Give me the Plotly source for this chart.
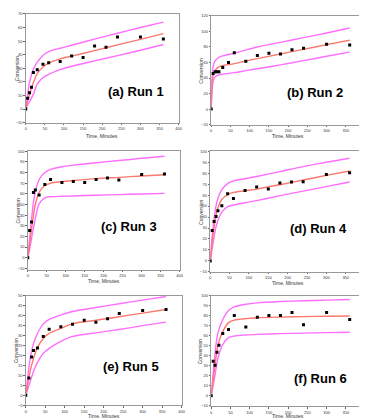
import plotly.graph_objects as go

W, H = 367, 418

# ---------------- data ----------------
t_a = [0, 5, 10, 15, 20, 30, 45, 60, 90, 120, 150, 180, 210, 240, 300, 360]
y_a = [0, 8, 12, 16, 27, 29, 33, 34, 35, 39, 38, 46.5, 45.5, 53, 53, 51.5]
t_b = [0, 5, 10, 15, 20, 30, 45, 60, 90, 120, 150, 180, 210, 240, 300, 360]
y_b = [0, 45.8, 48, 48, 48, 53.5, 60, 72.5, 61.5, 69, 72, 71, 76.4, 78.5, 83.6, 82.7]
t_c = [0, 5, 10, 15, 20, 30, 45, 60, 90, 120, 150, 180, 210, 240, 300, 360]
y_c = [0, 25.5, 33.5, 61.3, 63.5, 58.9, 68.8, 73.4, 70.6, 71.5, 70.6, 73.4, 75, 73, 78.2, 78.6]
t_d = [0, 5, 10, 15, 20, 30, 45, 60, 90, 120, 150, 180, 210, 240, 300, 360]
y_d = [0, 27.8, 36, 40.5, 45.8, 50.4, 61.2, 57, 64.2, 67.5, 65.7, 71.1, 72, 72.3, 78.9, 80.5]
t_e = [0, 8, 15, 20, 30, 45, 60, 90, 120, 150, 180, 210, 240, 300, 360]
y_e = [0, 8.6, 19.2, 22.5, 23.7, 29.5, 33.1, 34.3, 35.6, 37.6, 36.6, 38.4, 41, 42.5, 43]
t_f = [0, 5, 10, 15, 20, 30, 45, 60, 90, 120, 150, 180, 210, 240, 300, 360]
y_f = [0, 34.3, 30.4, 43.4, 50.5, 62.1, 66, 80, 68.6, 78.3, 80, 80, 83.1, 70.9, 83.1, 76]

# fitted curve and band
tc = [0, 5, 10, 20, 30, 45, 60, 90, 120, 180, 240, 300, 360]
fit_a = [0, 6, 11, 19.5, 26, 31, 33.8, 37, 39, 43, 47.2, 51.3, 55.5]
up_a = [0, 11, 20, 29.5, 34.5, 39.5, 42.3, 44.8, 47, 51.5, 55.8, 60, 64]
lo_a = [0, 3, 5.5, 11, 18.5, 23, 25.5, 29, 31.5, 35.5, 39.3, 43.3, 47.5]

tc_b = [0, 2, 5, 10, 20, 30, 60, 90, 120, 180, 240, 300, 360]
fit_b = [0, 30, 44, 50, 54.5, 56, 58.5, 62, 65, 71, 77, 83, 88.7]
up_b = [0, 40, 55, 62, 66.5, 68.5, 72, 76, 80, 86, 92, 98, 104.4]
lo_b = [0, 22, 36, 41.5, 44, 45, 47, 49.5, 52, 57, 62.5, 68, 73.4]

tc2 = [0, 5, 10, 15, 20, 30, 45, 60, 90, 120, 180, 240, 300, 360]
fit_c = [0, 13, 27, 40, 50, 61.5, 67.8, 70, 71.5, 72.5, 74.3, 75.5, 76.8, 78]
up_c = [0, 18, 36, 52, 62, 73.5, 80, 83, 85.5, 87, 89.3, 91.3, 93.4, 95.4]
lo_c = [0, 8, 18, 28, 37, 50.5, 56.3, 57.3, 57.7, 58, 58.7, 59.3, 59.8, 60.4]

fit_d = [0, 17, 31, 42, 48.5, 56, 60.5, 62.5, 64, 65.5, 69.5, 73.8, 78, 82]
up_d = [0, 22, 38, 50, 57, 65, 70.5, 73, 75, 77, 81.5, 86, 90, 93.7]
lo_d = [0, 11, 22, 31, 37, 44.5, 49.5, 51, 53, 55, 59.5, 63.7, 67.8, 72]

fit_e = [0, 5.5, 11, 18.5, 24, 28.5, 31, 33.5, 35.9, 37.6, 39.4, 41.2, 43]
up_e = [0, 9, 17, 26, 31, 35.8, 38, 40.3, 42, 44, 45.9, 47.7, 49.5]
lo_e = [0, 3, 6, 12, 16.5, 21, 23.5, 27, 29.5, 31.3, 33, 34.9, 36.7]

fit_f = [0, 16, 31, 45, 54, 64, 73, 75.5, 77, 77.8, 78.5, 79, 79.3, 79.6]
up_f = [0, 22, 42, 58, 66, 76, 85, 88.7, 91.3, 92.7, 94, 94.8, 95.4, 96]
lo_f = [0, 10, 21, 33, 41, 51, 58, 59.6, 60.6, 61.2, 62, 62.5, 63, 63.4]

titles = ["(a) Run 1", "(b) Run 2", "(c) Run 3", "(d) Run 4", "(e) Run 5", "(f) Run 6"]

# ---------------- layout geometry (pixels) ----------------
panels = [
    dict(t=t_a, y=y_a, tc=tc, fit=fit_a, up=up_a, lo=lo_a, box=(17, 172, 3, 113), yr=(-10, 70), dt=10,
         title_xy=(129, 81), ylab_x=8, xlab_y=127),
    dict(t=t_b, y=y_b, tc=tc_b, fit=fit_b, up=up_b, lo=lo_b, box=(205, 361, 5, 115), yr=(-20, 120), dt=20,
         title_xy=(310, 82), ylab_x=195, xlab_y=127),
    dict(t=t_c, y=y_c, tc=tc2, fit=fit_c, up=up_c, lo=lo_c, box=(19, 173, 142, 262), yr=(-11.5, 100), dt=10,
         title_xy=(122, 218), ylab_x=9, xlab_y=273),
    dict(t=t_d, y=y_d, tc=tc2, fit=fit_d, up=up_d, lo=lo_d, box=(204, 361, 142, 264), yr=(-10, 100), dt=10,
         title_xy=(314, 220), ylab_x=194, xlab_y=275),
    dict(t=t_e, y=y_e, tc=tc, fit=fit_e, up=up_e, lo=lo_e, box=(17, 175, 288, 399), yr=(-5, 50), dt=5,
         title_xy=(124, 360), ylab_x=7, xlab_y=410),
    dict(t=t_f, y=y_f, tc=tc2, fit=fit_f, up=up_f, lo=lo_f, box=(205, 361, 288, 400), yr=(-10.5, 100), dt=10,
         title_xy=(316, 372), ylab_x=194, xlab_y=410),
]

RED = "rgb(250,120,110)"
MAG = "rgb(255,110,255)"

fig = go.Figure()
layout = dict(width=W, height=H, margin=dict(l=0, r=0, t=0, b=0),
              paper_bgcolor="white", plot_bgcolor="white", showlegend=False,
              font=dict(family="Liberation Sans, Arial", color="#333"))
annotations = []

for i, p in enumerate(panels):
    k = "" if i == 0 else str(i + 1)
    xa, ya = "x" + k, "y" + k
    for yy, col in [(p["up"], MAG), (p["lo"], MAG), (p["fit"], RED)]:
        fig.add_trace(go.Scatter(x=p["tc"], y=yy, mode="lines", xaxis=xa, yaxis=ya,
                                 line=dict(color=col, width=1.4, shape="spline", smoothing=0.8),
                                 hoverinfo="skip"))
    fig.add_trace(go.Scatter(x=p["t"], y=p["y"], mode="markers", xaxis=xa, yaxis=ya,
                             marker=dict(symbol="square", size=3, color="black")))
    x0, x1, y0, y1 = p["box"]
    dom_x = [x0 / W, x1 / W]
    dom_y = [1 - y1 / H, 1 - y0 / H]
    common = dict(showline=True, mirror=True, linecolor="#999", linewidth=1, showgrid=False,
                  zeroline=False, ticks="outside", ticklen=1.5, tickcolor="#666",
                  tickfont=dict(size=4, color="#333"))
    layout["xaxis" + k] = dict(domain=dom_x, range=[0, 400], dtick=50, tick0=0,
                               anchor=ya, **common)
    layout["yaxis" + k] = dict(domain=dom_y, range=list(p["yr"]), dtick=p["dt"], tick0=0,
                               anchor=xa, **common)
    tx, ty = p["title_xy"]
    annotations.append(dict(text="<b>" + titles[i] + "</b>", x=tx / W, y=1 - ty / H, xref="paper",
                            yref="paper", showarrow=False, xanchor="center", yanchor="middle",
                            font=dict(size=13, color="black", family="Liberation Sans, Arial")))
    annotations.append(dict(text="Conversion", x=p["ylab_x"] / W, y=1 - (y0 + y1) / 2 / H,
                            xref="paper", yref="paper", showarrow=False, textangle=-90,
                            xanchor="center", yanchor="middle", borderpad=0,
                            font=dict(size=5, color="#333")))
    annotations.append(dict(text="Time, Minutes", x=(x0 + x1) / 2 / W, y=1 - p["xlab_y"] / H,
                            xref="paper", yref="paper", showarrow=False, borderpad=0,
                            xanchor="center", yanchor="middle", font=dict(size=5, color="#333")))

layout["annotations"] = annotations
fig.update_layout(**layout)
fig.write_html("out.html")
